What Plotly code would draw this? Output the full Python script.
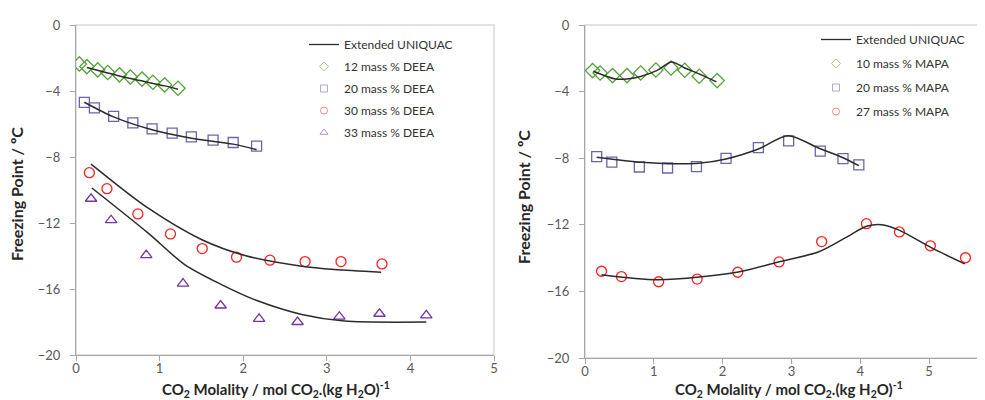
import plotly.graph_objects as go

# ---------------- Left panel (DEEA) ----------------
deea12_x = [0.04, 0.13, 0.26, 0.38, 0.52, 0.65, 0.79, 0.92, 1.06, 1.22]
deea12_y = [-2.36, -2.52, -2.72, -2.88, -3.02, -3.15, -3.28, -3.47, -3.63, -3.83]
deea12_mx = [0.13, 0.52, 1.06, 1.22]
deea12_my = [-2.58, -3.09, -3.69, -3.89]

deea20_x = [0.10, 0.22, 0.45, 0.68, 0.91, 1.15, 1.38, 1.64, 1.88, 2.16]
deea20_y = [-4.69, -5.02, -5.54, -5.93, -6.29, -6.55, -6.78, -6.98, -7.12, -7.34]
deea20_mx = [0.10, 0.45, 0.91, 1.38, 1.88, 2.16]
deea20_my = [-4.68, -5.57, -6.35, -6.86, -7.22, -7.56]

deea30_x = [0.16, 0.37, 0.74, 1.13, 1.51, 1.92, 2.32, 2.74, 3.17, 3.66]
deea30_y = [-8.95, -9.92, -11.45, -12.66, -13.55, -14.07, -14.25, -14.34, -14.34, -14.48]
deea30_mx = [0.18, 0.86, 1.50, 2.02, 2.70, 3.09, 3.65]
deea30_my = [-8.43, -11.09, -13.0, -13.97, -14.62, -14.82, -14.98]

deea33_x = [0.18, 0.42, 0.84, 1.28, 1.73, 2.19, 2.65, 3.15, 3.63, 4.19]
deea33_y = [-10.53, -11.83, -13.95, -15.67, -17.0, -17.81, -18.0, -17.68, -17.5, -17.6]
deea33_mx = [0.19, 0.86, 1.30, 1.74, 2.18, 2.70, 3.21, 4.19]
deea33_my = [-9.88, -12.6, -14.52, -15.73, -16.73, -17.54, -17.94, -18.0]

# ---------------- Right panel (MAPA) ----------------
mapa10_x = [0.11, 0.22, 0.40, 0.61, 0.81, 1.03, 1.25, 1.45, 1.66, 1.92]
mapa10_y = [-2.74, -2.88, -3.04, -3.04, -2.88, -2.70, -2.58, -2.72, -3.08, -3.34]
mapa10_mx = [0.12, 0.44, 0.61, 0.82, 1.04, 1.26, 1.45, 1.65, 1.91]
mapa10_my = [-2.78, -3.24, -3.24, -3.08, -2.74, -2.22, -2.58, -2.92, -3.42]

mapa20_x = [0.17, 0.39, 0.79, 1.20, 1.62, 2.05, 2.52, 2.96, 3.42, 3.75, 3.98]
mapa20_y = [-7.91, -8.23, -8.53, -8.59, -8.51, -8.01, -7.37, -6.96, -7.58, -8.02, -8.40]
mapa20_mx = [0.17, 0.82, 1.20, 1.65, 2.05, 2.52, 2.95, 3.40, 3.75, 3.98]
mapa20_my = [-7.94, -8.25, -8.33, -8.31, -8.05, -7.45, -6.65, -7.40, -7.97, -8.45]

mapa27_x = [0.24, 0.53, 1.07, 1.63, 2.22, 2.82, 3.44, 4.09, 4.57, 5.02, 5.53]
mapa27_y = [-14.79, -15.11, -15.42, -15.26, -14.85, -14.23, -13.01, -11.93, -12.43, -13.26, -13.98]
mapa27_mx = [0.24, 1.07, 2.23, 2.81, 3.39, 3.78, 4.09, 4.31, 4.55, 5.04, 5.52]
mapa27_my = [-15.0, -15.30, -14.83, -14.23, -13.63, -12.79, -12.09, -11.99, -12.29, -13.39, -14.35]

x_ticks_left = [0, 1, 2, 3, 4, 5]
x_ticks_right = [0, 1, 2, 3, 4, 5]
y_ticks = [0, -4, -8, -12, -16, -20]

GREEN = "#55a13a"
SLATE = "#6a66aa"
RED = "#ff1f1f"
PURPLE = "#7434a6"
LINE = "#2b2b2b"
FONT = "Lato"

fig = go.Figure()


def model(x, y, xa, ya):
    fig.add_trace(go.Scatter(
        x=x, y=y, mode="lines", line=dict(color=LINE, width=1.5, shape="spline", smoothing=0.8),
        showlegend=False, xaxis=xa, yaxis=ya, hoverinfo="skip"))


def pts(x, y, sym, col, xa, ya):
    fig.add_trace(go.Scatter(
        x=x, y=y, mode="markers", showlegend=False,
        marker=dict(symbol=sym, size=11 if "diamond" in sym else 10, color=col, line=dict(width=1.3, color=col)),
        xaxis=xa, yaxis=ya))


def legend_line(legend):
    fig.add_trace(go.Scatter(
        x=[None], y=[None], mode="lines", name="Extended UNIQUAC", line=dict(color=LINE, width=1.3),
        legend=legend, legendgroup=legend + "m", legendrank=1, xaxis="x", yaxis="y"))


def legend_marker(name, sym, col, legend, rank):
    fig.add_trace(go.Scatter(
        x=[None], y=[None], mode="markers", name=name, opacity=0.55,
        marker=dict(symbol=sym, size=7, color=col, line=dict(width=1, color=col)),
        legend=legend, legendgroup=legend + name, legendrank=rank, xaxis="x", yaxis="y"))


# left
pts(deea12_x, deea12_y, "diamond-open", GREEN, "x", "y")
pts(deea20_x, deea20_y, "square-open", SLATE, "x", "y")
pts(deea30_x, deea30_y, "circle-open", RED, "x", "y")
pts(deea33_x, deea33_y, "triangle-up-open", PURPLE, "x", "y")
model(deea12_mx, deea12_my, "x", "y")
model(deea20_mx, deea20_my, "x", "y")
model(deea30_mx, deea30_my, "x", "y")
model(deea33_mx, deea33_my, "x", "y")

# right
pts(mapa10_x, mapa10_y, "diamond-open", GREEN, "x2", "y2")
pts(mapa20_x, mapa20_y, "square-open", SLATE, "x2", "y2")
pts(mapa27_x, mapa27_y, "circle-open", RED, "x2", "y2")
model(mapa10_mx, mapa10_my, "x2", "y2")
model(mapa20_mx, mapa20_my, "x2", "y2")
model(mapa27_mx, mapa27_my, "x2", "y2")

# legend entries
legend_line("legend")
legend_marker("12 mass % DEEA", "diamond-open", GREEN, "legend", 2)
legend_marker("20 mass % DEEA", "square-open", SLATE, "legend", 3)
legend_marker("30 mass % DEEA", "circle-open", RED, "legend", 4)
legend_marker("33 mass % DEEA", "triangle-up-open", PURPLE, "legend", 5)
legend_line("legend2")
legend_marker("10 mass % MAPA", "diamond-open", GREEN, "legend2", 2)
legend_marker("20 mass % MAPA", "square-open", SLATE, "legend2", 3)
legend_marker("27 mass % MAPA", "circle-open", RED, "legend2", 4)

W, H = 985, 400
tickfont = dict(family=FONT, size=13, color="#595959")
axis_common = dict(showgrid=False, zeroline=False, showline=True, linecolor="#a6a6a6", linewidth=1,
                   ticks="outside", ticklen=5, tickcolor="#a6a6a6", tickfont=tickfont, automargin=False)

fig.update_layout(
    width=W, height=H, margin=dict(l=0, r=0, t=0, b=0),
    paper_bgcolor="white", plot_bgcolor="white",
    font=dict(family=FONT, color="#333333"),
    xaxis=dict(domain=[68 / W, 486 / W], range=[0, 5], tickvals=x_ticks_left, anchor="y",
               ticklabelstandoff=-4, **axis_common),
    yaxis=dict(domain=[1 - 347 / H, 1 - 17 / H], range=[-20, 0], tickvals=y_ticks, anchor="x",
               ticklabelstandoff=7, **axis_common),
    xaxis2=dict(domain=[577 / W, 982 / W], range=[0, (982 - 577) / 68.8], tickvals=x_ticks_right, anchor="y2",
                ticklabelstandoff=-4, **axis_common),
    yaxis2=dict(domain=[1 - 350 / H, 1 - 17 / H], range=[-20, 0], tickvals=y_ticks, anchor="x2",
                ticklabelstandoff=7, **axis_common),
    legend=dict(x=296 / W, y=1 - 22 / H, xanchor="left", yanchor="top", bgcolor="rgba(0,0,0,0)",
                font=dict(family=FONT, size=12, color="#333333"), traceorder="grouped", tracegroupgap=3),
    legend2=dict(x=808 / W, y=1 - 17 / H, xanchor="left", yanchor="top", bgcolor="rgba(0,0,0,0)",
                 font=dict(family=FONT, size=12, color="#333333"), traceorder="grouped", tracegroupgap=5),
    showlegend=True,
)

# light frame around each plot area
for xr, yr in (("x domain", "y domain"), ("x2 domain", "y2 domain")):
    fig.add_shape(type="rect", xref=xr, yref=yr, x0=0, x1=1, y0=0, y1=1,
                  line=dict(color="#d9d9d9", width=1.5), layer="below")

xt = "<b>CO<sub>2</sub> Molality / mol CO<sub>2</sub>.(kg H<sub>2</sub>O)<sup>-1</sup></b>"
yt = "<b>Freezing Point / ºC</b>"
xf = dict(family=FONT, size=15, color="#262626")
yf = dict(family=FONT, size=16, color="#262626")
fig.add_annotation(text=xt, xref="paper", yref="paper", x=268 / W, y=1 - 394 / H, xanchor="center",
                   yanchor="bottom", showarrow=False, font=xf)
fig.add_annotation(text=xt, xref="paper", yref="paper", x=781 / W, y=1 - 394 / H, xanchor="center",
                   yanchor="bottom", showarrow=False, font=xf)
fig.add_annotation(text=yt, xref="paper", yref="paper", x=8 / W, y=1 - 186 / H, xanchor="center",
                   yanchor="middle", showarrow=False, font=yf, textangle=-90)
fig.add_annotation(text=yt, xref="paper", yref="paper", x=516 / W, y=1 - 189 / H, xanchor="center",
                   yanchor="middle", showarrow=False, font=yf, textangle=-90)

fig.write_html("out.html")
